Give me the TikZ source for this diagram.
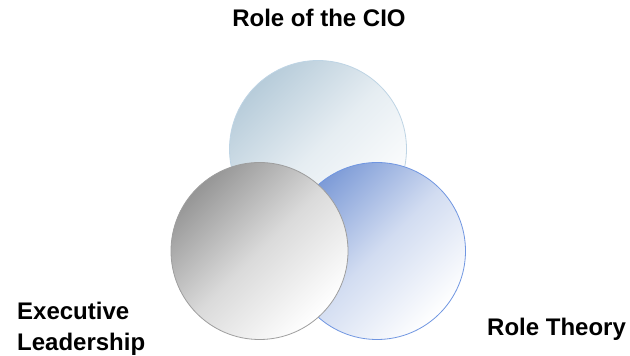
\documentclass[tikz,border=0pt]{standalone}
\usepackage{fontspec}
\setmainfont{Liberation Sans}
\usetikzlibrary{positioning}

\definecolor{ciofill}{RGB}{183,204,218}
\definecolor{cioline}{RGB}{190,212,228}
\definecolor{leadfill}{RGB}{150,150,150}
\definecolor{leadline}{RGB}{158,158,158}
\definecolor{rolefill}{RGB}{125,155,215}
\definecolor{roleline}{RGB}{112,150,225}

\begin{document}
\begin{tikzpicture}[
    x=1pt, y=1pt,
    label/.style={font=\fontsize{24}{31}\selectfont\bfseries, inner sep=0pt},
    ring/.style 2 args={circle, minimum size=177pt, inner sep=0pt, line width=0.8pt,
      top color=#1, bottom color=white, middle color=#1!35!white, shading angle=45, draw=#2}
  ]
  \useasboundingbox (0,0) rectangle (630,356);

  % the three circles
  \node (cio) [ring={ciofill}{cioline}] at (318,207) {};
  \node (role) [ring={rolefill}{roleline}] at (377,105) {};
  \node (lead) [ring={leadfill}{leadline}] at (259.5,105) {};

  % labels
  \node (ciotext) [label, anchor=base] at (319,329) {Role of the CIO};
  \node (leadtext) [label, align=left, anchor=base west] at (17,5) {Executive\\Leadership};
  \node (roletext) [label, anchor=base west] at (487,20) {Role Theory};
\end{tikzpicture}
\end{document}
